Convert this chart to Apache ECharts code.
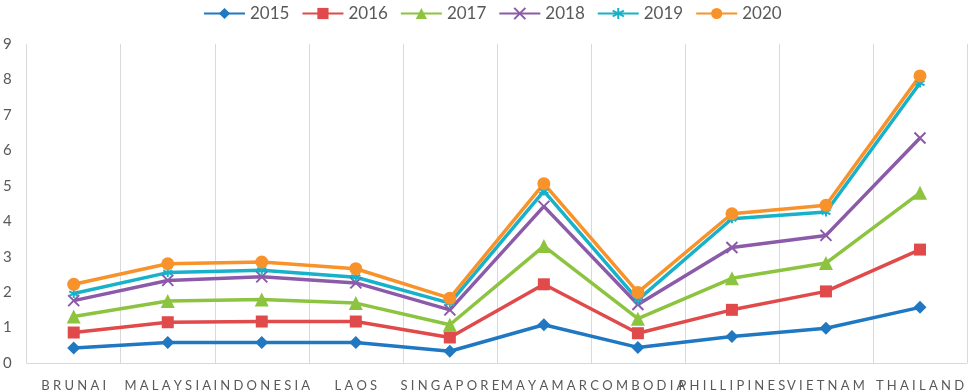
<!DOCTYPE html>
<html>
<head>
<meta charset="utf-8">
<script src="https://cdn.jsdelivr.net/npm/echarts@6/dist/echarts.min.js"></script>
<style>
  html, body { margin: 0; padding: 0; background: #fff; }
  #chart { width: 969px; height: 392px; }
</style>
</head>
<body>
<div id="chart"></div>
<script>
var countries = ['BRUNAI', 'MALAYSIA', 'INDONESIA', 'LAOS', 'SINGAPORE', 'MAYAMAR', 'COMBODIA', 'PHILLIPINES', 'VIETNAM', 'THAILAND']
var years = ['2015', '2016', '2017', '2018', '2019', '2020']
var y2015 = [0.42, 0.58, 0.58, 0.58, 0.33, 1.08, 0.44, 0.75, 0.98, 1.57]
var y2016 = [0.86, 1.15, 1.17, 1.17, 0.72, 2.22, 0.84, 1.5, 2.02, 3.2]
var y2017 = [1.31, 1.75, 1.79, 1.69, 1.08, 3.3, 1.25, 2.39, 2.82, 4.8]
var y2018 = [1.76, 2.33, 2.43, 2.26, 1.5, 4.42, 1.65, 3.26, 3.6, 6.35]
var y2019 = [1.96, 2.55, 2.62, 2.42, 1.69, 4.85, 1.78, 4.07, 4.26, 7.9]
var y2020 = [2.22, 2.8, 2.85, 2.66, 1.83, 5.06, 1.99, 4.21, 4.45, 8.1]

var values = [y2015, y2016, y2017, y2018, y2019, y2020]
var colors = ['#1f78c1', '#e04a4a', '#8cc43f', '#8b5aa8', '#17b2c9', '#f8922a']
var symbols = [
  'diamond',
  'rect',
  'triangle',
  'path://M0,0L10,10M10,0L0,10',
  'path://M5,0L5,10M0,2.5L10,7.5M0,7.5L10,2.5',
  'circle'
]
var symbolSizes = [13, 12, 14, 11, 9, 13]

var textColor = '#595959'
var font = 'Lato, "Open Sans", sans-serif'

var series = years.map(function (y, i) {
  var stroked = i === 3 || i === 4
  return {
    name: y,
    type: 'line',
    data: values[i],
    symbol: symbols[i],
    symbolSize: symbolSizes[i],
    showAllSymbol: true,
    lineStyle: { color: colors[i], width: 3.5 },
    itemStyle: {
      color: colors[i],
      borderColor: colors[i],
      borderWidth: stroked ? 2 : 0
    },
    emphasis: { disabled: true }
  }
})

var chart = echarts.init(document.getElementById('chart'))
chart.setOption({
  backgroundColor: '#ffffff',
  animation: false,
  legend: {
    data: years,
    top: 0,
    left: 198,
    itemWidth: 41,
    itemHeight: 14,
    itemGap: 12,
    textStyle: { color: textColor, fontSize: 17, fontFamily: font }
  },
  grid: { left: 25, right: 2, top: 44, bottom: 27, containLabel: false },
  xAxis: {
    type: 'category',
    data: countries,
    boundaryGap: true,
    axisLine: { show: true, lineStyle: { color: '#d9d9d9', width: 1 } },
    axisTick: { show: false },
    splitLine: { show: true, lineStyle: { color: '#d9d9d9', width: 1 } },
    axisLabel: {
      color: textColor,
      fontSize: 13,
      fontFamily: font,
      margin: 16,
      interval: 0,
      formatter: function (v) { return v.split('').join('\u2005') }
    }
  },
  yAxis: {
    type: 'value',
    min: 0,
    max: 9,
    interval: 1,
    axisLine: { show: false },
    axisTick: { show: false },
    splitLine: { show: false },
    axisLabel: { color: textColor, fontSize: 15, fontFamily: font, margin: 15 }
  },
  series: series
})
</script>
</body>
</html>
